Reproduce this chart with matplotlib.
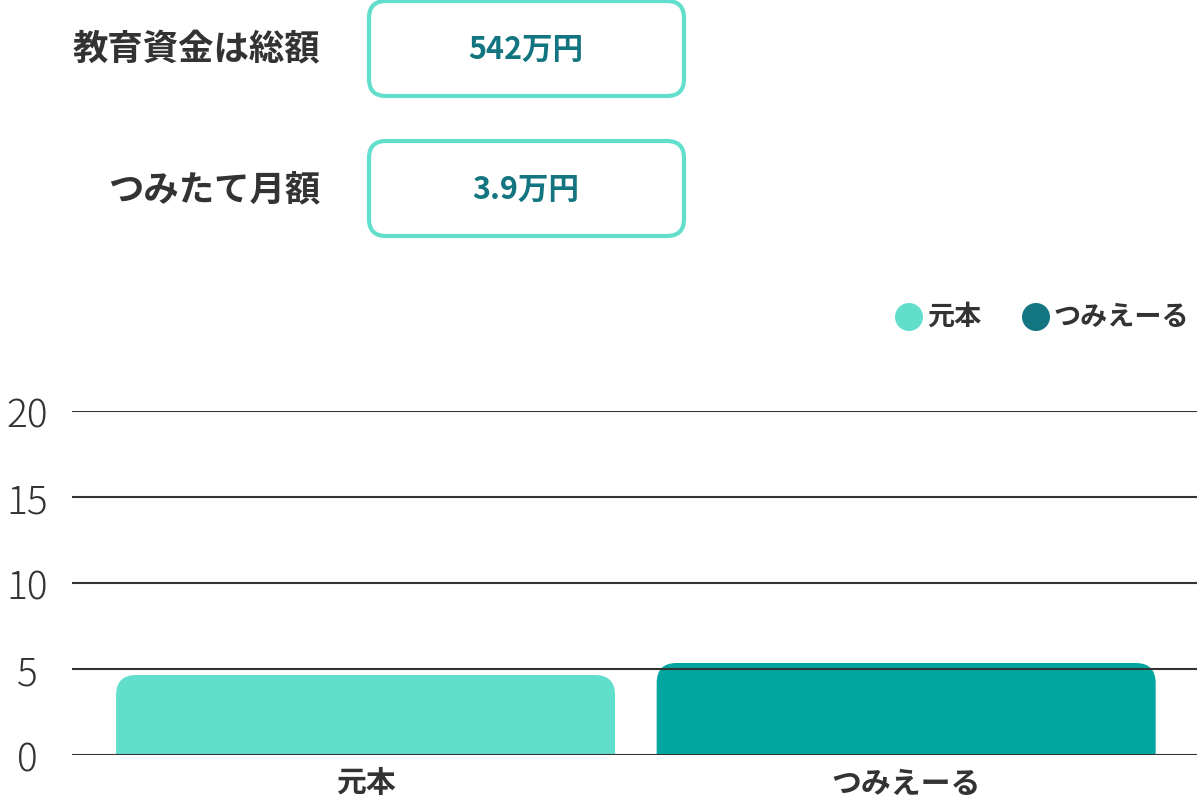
import numpy as np
import matplotlib
matplotlib.use('Agg')
import matplotlib.pyplot as plt
from matplotlib.patches import FancyBboxPatch, Circle

plt.rcParams['font.family'] = ['Noto Sans CJK JP', 'DejaVu Sans']

# data
categories = ['元本', 'つみえーる']
values = [4.65, 5.35]
bar_colors = ['#62dfcc', '#02a6a0']
legend_labels = ['元本', 'つみえーる']
legend_colors = ['#62dfcc', '#137580']
info_labels = ['教育資金は総額', 'つみたて月額']
info_values = ['542万円', '3.9万円']
yticks = [0, 5, 10, 15, 20]

W, H = 1197, 804
fig = plt.figure(figsize=(W / 100, H / 100), dpi=100)

# main bar axes (pixel geometry of the reference)
ax = fig.add_axes([72 / W, (H - 756) / H, (1197 - 72) / W, (756 - 412) / H])
x = np.arange(len(categories))
bars = ax.bar(x, values, width=0.923, color='none')
ax.set_xlim(-0.543, 1.538)
ax.set_ylim(0, 20)

# rounded tops (bottom corners pushed below 0 and clipped)
xunit = (1.538 + 0.543) / (1197 - 72)
yunit = 20 / (756 - 412)
r = 20 * xunit
for b, c in zip(bars, bar_colors):
    bx, bw, bh = b.get_x(), b.get_width(), b.get_height()
    ax.add_patch(FancyBboxPatch((bx, -3), bw, bh + 3,
                                boxstyle='round,pad=0,rounding_size=%f' % r,
                                mutation_aspect=yunit / xunit,
                                fc=c, ec='none', zorder=1))

for yv in yticks:
    ax.axhline(yv, color='#333333', lw=1.5, zorder=3)

for s in ax.spines.values():
    s.set_visible(False)
ax.set_yticks(yticks)
ax.set_yticklabels([str(t) for t in yticks], fontsize=28, color='#333333',
                   fontweight='light')
for lab in ax.get_yticklabels():
    lab.set_horizontalalignment('center')
ax.tick_params(axis='y', length=0, pad=32)
ax.set_xticks(x)
ax.set_xticklabels(categories, fontsize=21.5, fontweight='bold', color='#333333')
ax.tick_params(axis='x', length=0, pad=9)

# overlay for header and legend in pixel coords
ov = fig.add_axes([0, 0, 1, 1])
ov.set_xlim(0, W)
ov.set_ylim(H, 0)
ov.axis('off')

box_y = [2, 142]
for lab, val, y0 in zip(info_labels, info_values, box_y):
    cy = y0 + 48
    ov.text(320, cy, lab, ha='right', va='center', fontsize=25.5,
            fontweight='bold', color='#333333')
    ov.add_patch(FancyBboxPatch((369, y0), 315, 95,
                                boxstyle='round,pad=0,rounding_size=17',
                                fc='white', ec='#62dfcc', lw=3))
    ov.text(526, cy, val, ha='center', va='center', fontsize=22,
            fontweight='bold', color='#137580')

leg_x = [909, 1036]
for lx, lab, c in zip(leg_x, legend_labels, legend_colors):
    ov.add_patch(Circle((lx, 318), 14, fc=c, ec='none'))
    ov.text(lx + 18, 317, lab, ha='left', va='center', fontsize=19.5,
            fontweight='bold', color='#333333')

fig.savefig('out.png', dpi=100, facecolor='white')
